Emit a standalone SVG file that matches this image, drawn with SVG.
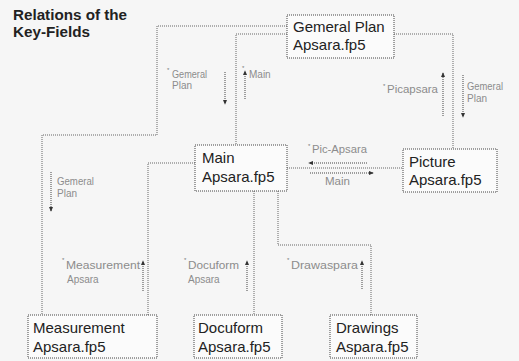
<svg xmlns="http://www.w3.org/2000/svg" width="519" height="361" viewBox="0 0 519 361">
<style>
.bg{fill:#f6f6f6}
.box{fill:#fbfbfb;stroke:#444;stroke-width:1;stroke-dasharray:1 1}
.bt{font-family:"Liberation Sans",Arial,sans-serif;font-size:15px;fill:#222}
.con{fill:none;stroke:#666;stroke-width:1;stroke-dasharray:1 1}
.arr{fill:none;stroke:#444;stroke-width:1;stroke-dasharray:1 1;marker-end:url(#ah)}
.lb{font-family:"Liberation Sans",Arial,sans-serif;font-size:10px;fill:#8c8c8c}
.st{font-family:"Liberation Sans",Arial,sans-serif;font-size:6px;fill:#777}
.title{font-family:"Liberation Sans",Arial,sans-serif;font-size:14px;font-weight:bold;fill:#222}
</style>
<defs>
<marker id="ah" viewBox="0 0 6 6" refX="5" refY="3" markerWidth="5" markerHeight="5" markerUnits="userSpaceOnUse" orient="auto">
<path d="M0,0.5 L6,3 L0,5.5 Z" fill="#333"/>
</marker>
</defs>
<rect class="bg" x="0" y="0" width="519" height="361"/>
<g id="title">
<text class="title" x="13" y="20" textLength="114" lengthAdjust="spacingAndGlyphs">Relations of the</text>
<text class="title" x="13" y="37" textLength="77" lengthAdjust="spacingAndGlyphs">Key-Fields</text>
</g>
<g id="connectors">
<polyline class="con" points="287,26 157,26 157,135 42,135 42,315"/>
<polyline class="con" points="287,34 236,34 236,145"/>
<polyline class="con" points="394,34 453,34 453,149"/>
<polyline class="con" points="287,168 403,168"/>
<polyline class="con" points="195,163 148,163 148,315"/>
<polyline class="con" points="254,191 254,315"/>
<polyline class="con" points="278,191 278,245 371,245 371,315"/>
</g>
<g id="labels">
<line class="arr" x1="225" y1="72" x2="225" y2="104"/>
<text class="st" x="167" y="72">*</text>
<text class="lb" x="172" y="78" textLength="35" lengthAdjust="spacingAndGlyphs">Gemeral</text>
<text class="lb" x="172" y="89">Plan</text>

<line class="arr" x1="245" y1="99" x2="245" y2="71"/>
<text class="st" x="242" y="70">*</text>
<text class="lb" x="249" y="78">Main</text>

<line class="arr" x1="443" y1="116" x2="443" y2="73"/>
<text class="st" x="383" y="88">*</text>
<text class="lb" x="387" y="93" textLength="51" lengthAdjust="spacingAndGlyphs">Picapsara</text>

<line class="arr" x1="463" y1="75" x2="463" y2="117"/>
<text class="lb" x="467" y="90" textLength="36" lengthAdjust="spacingAndGlyphs">Gemeral</text>
<text class="lb" x="467" y="102">Plan</text>

<text class="st" x="308" y="148">*</text>
<text class="lb" x="312" y="153" textLength="55" lengthAdjust="spacingAndGlyphs">Pic-Apsara</text>
<line class="arr" x1="367" y1="163" x2="309" y2="163"/>
<line class="arr" x1="310" y1="173" x2="373" y2="173"/>
<text class="lb" x="325" y="185" textLength="25" lengthAdjust="spacingAndGlyphs">Main</text>

<line class="arr" x1="51" y1="172" x2="51" y2="211"/>
<text class="lb" x="57" y="185" textLength="37" lengthAdjust="spacingAndGlyphs">Gemeral</text>
<text class="lb" x="57" y="197">Plan</text>

<line class="arr" x1="143" y1="291" x2="143" y2="261"/>
<text class="st" x="62" y="262">*</text>
<text class="lb" x="66" y="269" textLength="74" lengthAdjust="spacingAndGlyphs">Measurement</text>
<text class="lb" x="67" y="283">Apsara</text>

<line class="arr" x1="247" y1="291" x2="247" y2="261"/>
<text class="st" x="184" y="262">*</text>
<text class="lb" x="188" y="269" textLength="51" lengthAdjust="spacingAndGlyphs">Docuform</text>
<text class="lb" x="188" y="283">Apsara</text>

<line class="arr" x1="362" y1="289" x2="362" y2="261"/>
<text class="st" x="287" y="262">*</text>
<text class="lb" x="291" y="269" textLength="67" lengthAdjust="spacingAndGlyphs">Drawaspara</text>
</g>
<g id="general-plan">
<rect class="box" x="287" y="15" width="107" height="43"/>
<text class="bt" x="293" y="32">Gemeral Plan</text>
<text class="bt" x="293" y="50">Apsara.fp5</text>
</g>
<g id="main">
<rect class="box" x="195" y="145" width="92" height="46"/>
<text class="bt" x="202" y="163">Main</text>
<text class="bt" x="202" y="182">Apsara.fp5</text>
</g>
<g id="picture">
<rect class="box" x="403" y="149" width="94" height="43"/>
<text class="bt" x="409" y="167">Picture</text>
<text class="bt" x="409" y="185">Apsara.fp5</text>
</g>
<g id="measurement">
<rect class="box" x="28" y="315" width="129" height="43"/>
<text class="bt" x="33" y="333">Measurement</text>
<text class="bt" x="33" y="352">Apsara.fp5</text>
</g>
<g id="docuform">
<rect class="box" x="194" y="315" width="88" height="43"/>
<text class="bt" x="198" y="333">Docuform</text>
<text class="bt" x="198" y="352">Apsara.fp5</text>
</g>
<g id="drawings">
<rect class="box" x="330" y="315" width="87" height="43"/>
<text class="bt" x="336" y="333">Drawings</text>
<text class="bt" x="336" y="352">Aspara.fp5</text>
</g>
</svg>
